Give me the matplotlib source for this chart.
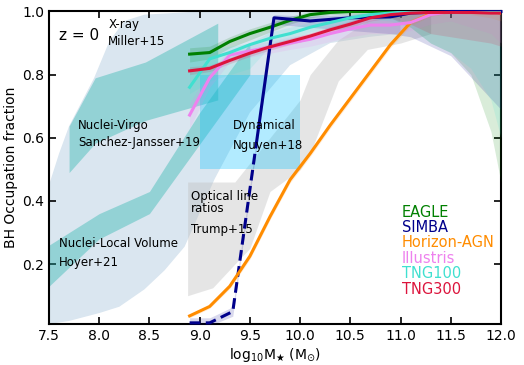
import numpy as np
import matplotlib.pyplot as plt

# simulation mass bins (log10 M*)
mass = [8.9, 9.1, 9.3, 9.5, 9.7, 9.9, 10.1, 10.3, 10.5, 10.7,
        10.9, 11.1, 11.3, 11.5, 11.7, 11.9, 12.0]

eagle = [0.865, 0.87, 0.905, 0.93, 0.95, 0.972, 0.99, 0.997, 1.0, 1.0,
         1.0, 1.0, 1.0, 1.0, 1.0, 1.0, 1.0]
eagle_lo = [0.84, 0.85, 0.885, 0.91, 0.935, 0.96, 0.98, 0.99, 0.99, 0.99,
            0.98, 0.95, 0.9, 0.87, 0.8, 0.62, 0.46]
eagle_hi = [0.885, 0.89, 0.92, 0.945, 0.965, 0.985, 1.0, 1.0, 1.0, 1.0,
            1.0, 1.0, 1.0, 1.0, 1.0, 1.0, 1.0]

horizon = [0.036, 0.066, 0.13, 0.225, 0.35, 0.467, 0.55, 0.64, 0.725, 0.81,
           0.895, 0.965, 0.993, 1.0, 1.0, 1.0, 0.995]
horizon_lo = [0.03, 0.06, 0.122, 0.215, 0.34, 0.457, 0.54, 0.63, 0.715, 0.8,
              0.885, 0.955, 0.985, 0.995, 0.99, 0.98, 0.97]
horizon_hi = [0.042, 0.072, 0.138, 0.235, 0.36, 0.477, 0.56, 0.65, 0.735, 0.82,
              0.905, 0.975, 1.0, 1.0, 1.0, 1.0, 1.0]

illustris = [0.672, 0.79, 0.862, 0.875, 0.887, 0.9, 0.912, 0.93, 0.945, 0.957,
             0.957, 0.965, 0.99, 1.0, 1.0, 1.0, 1.0]
illustris_lo = [0.63, 0.76, 0.84, 0.855, 0.868, 0.88, 0.89, 0.905, 0.92, 0.93,
                0.93, 0.94, 0.96, 0.97, 0.95, 0.93, 0.9]
illustris_hi = [0.71, 0.81, 0.88, 0.895, 0.905, 0.92, 0.93, 0.95, 0.965, 0.975,
                0.975, 0.985, 1.0, 1.0, 1.0, 1.0, 1.0]

tng100 = [0.76, 0.85, 0.87, 0.895, 0.915, 0.93, 0.95, 0.965, 0.98, 0.99,
          0.995, 1.0, 1.0, 1.0, 1.0, 1.0, 1.0]
tng100_lo = [0.74, 0.78, 0.8, 0.82, 0.89, 0.91, 0.935, 0.95, 0.965, 0.975,
             0.97, 0.95, 0.9, 0.87, 0.82, 0.72, 0.6]
tng100_hi = [0.87, 0.88, 0.89, 0.9, 0.935, 0.95, 0.965, 0.98, 0.99, 1.0,
             1.0, 1.0, 1.0, 1.0, 1.0, 1.0, 1.0]

tng300 = [0.812, 0.82, 0.845, 0.868, 0.888, 0.905, 0.922, 0.942, 0.96, 0.98,
          0.99, 0.995, 0.997, 0.997, 0.997, 0.995, 0.995]
tng300_lo = [0.8, 0.81, 0.835, 0.858, 0.878, 0.895, 0.912, 0.932, 0.95, 0.97,
             0.98, 0.96, 0.93, 0.92, 0.91, 0.9, 0.89]
tng300_hi = [0.825, 0.83, 0.855, 0.878, 0.898, 0.915, 0.932, 0.952, 0.97, 0.99,
             1.0, 1.0, 1.0, 1.0, 1.0, 1.0, 1.0]

simba_mass = [8.9, 9.1, 9.33, 9.74, 10.1, 10.5, 10.9, 11.1, 11.5, 12.0]
simba = [0.014, 0.014, 0.05, 0.98, 0.97, 0.98, 0.983, 0.995, 1.0, 1.0]
simba_lo = [0.005, 0.005, 0.035, 0.96, 0.95, 0.94, 0.93, 0.92, 0.86, 0.69]
simba_hi = [0.03, 0.03, 0.065, 0.99, 0.985, 0.99, 1.0, 1.0, 1.0, 1.0]
simba_solid_from = 0.6  # dashed below this fraction

# observational constraints
xray_up_x = [7.5, 7.6, 7.7, 7.95, 8.1, 8.25, 8.45, 9.0, 11.0]
xray_up_y = [0.45, 0.55, 0.637, 0.79, 0.905, 0.97, 0.99, 1.0, 1.0]
xray_lo_x = [7.5, 7.7, 8.0, 8.2, 8.45, 8.65, 8.85, 9.15, 9.5, 9.9, 10.3, 10.7, 11.0]
xray_lo_y = [0.01, 0.02, 0.045, 0.065, 0.12, 0.18, 0.255, 0.47, 0.68, 0.83, 0.9, 0.92, 0.93]

virgo_x = [7.7, 7.96, 8.46, 9.18]
virgo_lo = [0.49, 0.583, 0.655, 0.72]
virgo_hi = [0.637, 0.79, 0.84, 0.963]

hoyer_x = [7.5, 8.0, 8.5, 9.0, 9.5]
hoyer_lo = [0.13, 0.28, 0.36, 0.58, 0.8]
hoyer_hi = [0.26, 0.36, 0.43, 0.68, 0.9]

trump_x = [8.88, 9.13, 9.35, 9.5, 9.7, 10.0, 10.1, 10.38, 10.67, 11.0, 11.3]
trump_lo = [0.10, 0.125, 0.2, 0.25, 0.43, 0.5, 0.55, 0.78, 0.88, 0.9, 0.93]
trump_hi = [0.46, 0.46, 0.46, 0.52, 0.6, 0.72, 0.8, 0.91, 0.97, 0.99, 0.99]

nguyen_x = [9.0, 10.0]
nguyen_y = [0.5, 0.8]

sims = [("EAGLE", "green", mass, eagle, eagle_lo, eagle_hi),
        ("SIMBA", "darkblue", simba_mass, simba, simba_lo, simba_hi),
        ("Horizon-AGN", "darkorange", mass, horizon, horizon_lo, horizon_hi),
        ("Illustris", "violet", mass, illustris, illustris_lo, illustris_hi),
        ("TNG100", "turquoise", mass, tng100, tng100_lo, tng100_hi),
        ("TNG300", "crimson", mass, tng300, tng300_lo, tng300_hi)]

fig = plt.figure(figsize=(5.24, 3.65), dpi=100)
ax = fig.add_axes([0.0935, 0.112, 0.8625, 0.8565])

# X-ray region
ax.fill(xray_up_x + xray_lo_x[::-1], xray_up_y + xray_lo_y[::-1],
        color="steelblue", alpha=0.2, lw=0, zorder=1)
ax.fill_between(virgo_x, virgo_lo, virgo_hi, color="lightseagreen",
                alpha=0.38, lw=0, zorder=2)
ax.fill_between(hoyer_x, hoyer_lo, hoyer_hi, color="lightseagreen",
                alpha=0.38, lw=0, zorder=2)
ax.fill_between(trump_x, trump_lo, trump_hi, color="silver",
                alpha=0.4, lw=0, zorder=2)
ax.fill_between(nguyen_x, [nguyen_y[0]] * 2, [nguyen_y[1]] * 2,
                color="deepskyblue", alpha=0.3, lw=0, zorder=3)

for name, c, xs, ys, lo, hi in sims:
    ax.fill_between(xs, lo, hi, color=c, alpha=0.15, lw=0, zorder=4)

for name, c, xs, ys, lo, hi in sims:
    if name == "SIMBA":
        l1, = ax.plot(xs, ys, color=c, lw=2.2, ls=(0, (3.5, 1.8)), zorder=6)
        l2, = ax.plot(xs, ys, color=c, lw=2.2, zorder=6)
        r1 = plt.Rectangle((7.5, 0), 5, simba_solid_from, transform=ax.transData)
        r2 = plt.Rectangle((7.5, simba_solid_from), 5, 1, transform=ax.transData)
        l1.set_clip_path(r1)
        l2.set_clip_path(r2)
    else:
        ax.plot(xs, ys, color=c, lw=2.2, zorder=6)

# legend as coloured text
for i, (name, c, *_) in enumerate(sims):
    ax.text(11.01, 0.365 - i * 0.049, name, color=c, fontsize=10.5,
            va="center", ha="left", zorder=7)

fs = 8.5
ax.text(7.6, 0.925, "z = 0", fontsize=11, va="center")
ax.text(8.09, 0.96, "X-ray", fontsize=fs, va="center")
ax.text(8.09, 0.905, "Miller+15", fontsize=fs, va="center")
ax.text(7.79, 0.64, "Nuclei-Virgo", fontsize=fs, va="center", zorder=8)
ax.text(7.79, 0.585, "Sanchez-Jansser+19", fontsize=fs, va="center", zorder=8)
ax.text(9.33, 0.64, "Dynamical", fontsize=fs, va="center", zorder=8)
ax.text(9.33, 0.577, "Nguyen+18", fontsize=fs, va="center", zorder=8)
ax.text(8.91, 0.395, "Optical line\nratios", fontsize=fs, va="center",
        linespacing=0.95, zorder=8)
ax.text(8.91, 0.31, "Trump+15", fontsize=fs, va="center", zorder=8)
ax.text(7.6, 0.264, "Nuclei-Local Volume", fontsize=fs, va="center", zorder=8)
ax.text(7.6, 0.204, "Hoyer+21", fontsize=fs, va="center", zorder=8)

ax.set_xlim(7.5, 12.0)
ax.set_ylim(0.01, 1.0)
ax.set_xticks(np.arange(7.5, 12.01, 0.5))
ax.set_yticks([0.2, 0.4, 0.6, 0.8, 1.0])
ax.tick_params(direction="in", top=True, right=True, length=5, width=1.2,
               labelsize=10)
for s in ax.spines.values():
    s.set_linewidth(1.5)
ax.set_xlabel(r"log$_{10}$M$_{\bigstar}$ (M$_{\odot}$)", fontsize=10, labelpad=2)
ax.set_ylabel("BH Occupation fraction", fontsize=10, labelpad=3)

fig.savefig("out.png", dpi=100)
